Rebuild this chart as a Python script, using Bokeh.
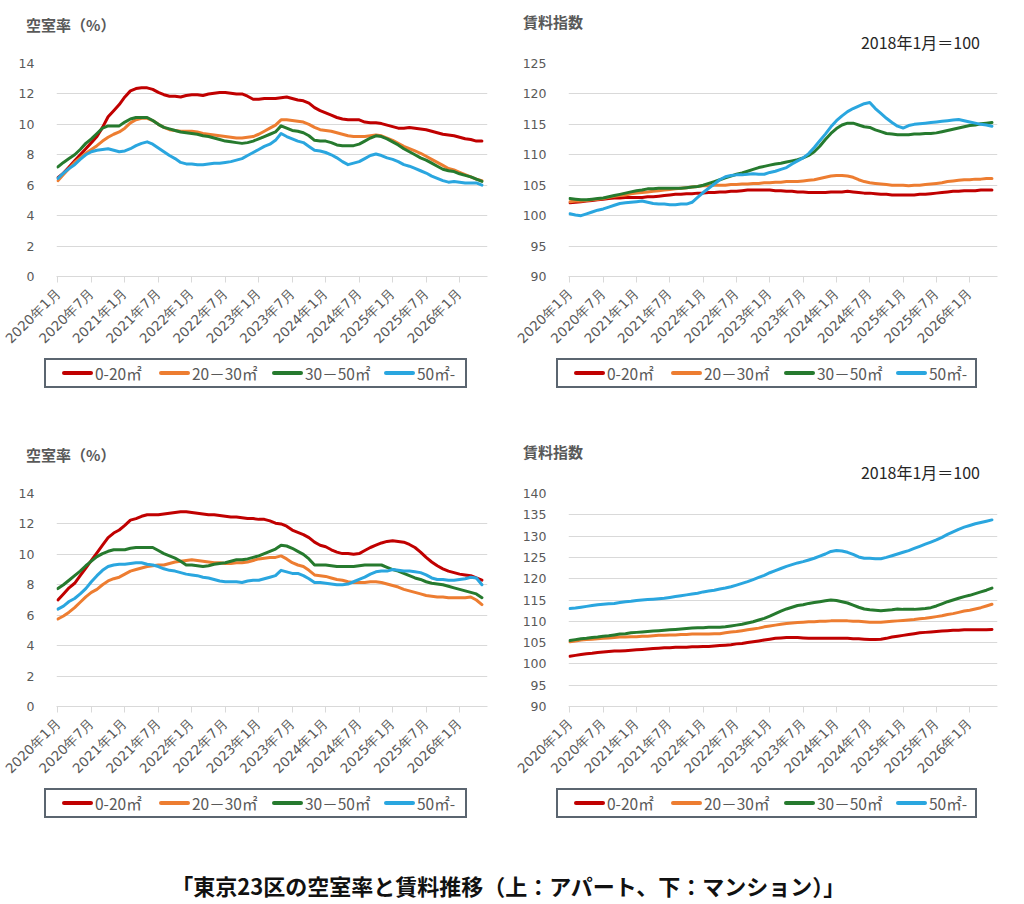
from bokeh.plotting import figure
from bokeh.models import Range1d, FixedTicker, Label, Div
from bokeh.layouts import column, row
from bokeh.embed import file_html
from bokeh.resources import INLINE

# ---------------- data ----------------
months = [f"{2020 + i // 12}年{i % 12 + 1}月" for i in range(77)]   # 2020年1月 .. 2026年5月
tick_positions = [0, 6, 12, 18, 24, 30, 36, 42, 48, 54, 60, 66, 72]
tick_labels = ["2020年1月", "2020年7月", "2021年1月", "2021年7月", "2022年1月", "2022年7月",
               "2023年1月", "2023年7月", "2024年1月", "2024年7月", "2025年1月", "2025年7月",
               "2026年1月"]
series_names = ["0-20㎡", "20－30㎡", "30－50㎡", "50㎡-"]
colors = ["#C00000", "#ED7D31", "#267A2E", "#2AA6DF"]

# アパート 空室率 (%)
apt_vac_0_20 = [6.5, 6.8, 7.2, 7.6, 8.0, 8.4, 8.8, 9.2, 9.8, 10.5, 10.9, 11.3, 11.8, 12.2, 12.35, 12.4,
                12.4, 12.3, 12.1, 11.95, 11.85, 11.85, 11.8, 11.9, 11.95, 11.95, 11.9, 12.0, 12.05, 12.1,
                12.1, 12.05, 12.0, 12.0, 11.85, 11.65, 11.65, 11.7, 11.7, 11.7, 11.75, 11.8, 11.7, 11.6,
                11.55, 11.4, 11.1, 10.9, 10.75, 10.6, 10.45, 10.35, 10.3, 10.3, 10.3, 10.15, 10.1, 10.1,
                10.05, 9.95, 9.85, 9.75, 9.75, 9.8, 9.75, 9.7, 9.65, 9.55, 9.45, 9.35, 9.3, 9.25, 9.15,
                9.05, 9.0, 8.9, 8.9]
apt_vac_20_30 = [6.3, 6.7, 7.1, 7.5, 7.8, 8.1, 8.35, 8.6, 8.9, 9.15, 9.35, 9.5, 9.75, 10.1, 10.3, 10.4,
                 10.4, 10.25, 10.0, 9.8, 9.65, 9.6, 9.55, 9.55, 9.55, 9.5, 9.4, 9.35, 9.3, 9.25, 9.2,
                 9.15, 9.1, 9.1, 9.15, 9.2, 9.35, 9.55, 9.75, 9.95, 10.3, 10.3, 10.25, 10.2, 10.15, 10.0,
                 9.8, 9.65, 9.6, 9.55, 9.45, 9.35, 9.25, 9.2, 9.2, 9.2, 9.25, 9.3, 9.25, 9.1, 8.95, 8.75,
                 8.55, 8.4, 8.25, 8.1, 7.9, 7.7, 7.5, 7.3, 7.1, 7.0, 6.85, 6.7, 6.55, 6.4, 6.3]
apt_vac_30_50 = [7.2, 7.5, 7.75, 8.0, 8.35, 8.75, 9.05, 9.4, 9.75, 9.9, 9.9, 9.9, 10.15, 10.35, 10.45,
                 10.45, 10.45, 10.25, 10.0, 9.8, 9.7, 9.6, 9.5, 9.45, 9.4, 9.35, 9.25, 9.2, 9.1, 9.0, 8.9,
                 8.85, 8.8, 8.75, 8.8, 8.9, 9.05, 9.2, 9.35, 9.5, 9.9, 9.75, 9.6, 9.55, 9.45, 9.25, 8.95,
                 8.9, 8.9, 8.8, 8.65, 8.6, 8.6, 8.6, 8.7, 8.9, 9.1, 9.25, 9.2, 9.05, 8.85, 8.65, 8.4, 8.2,
                 8.0, 7.8, 7.65, 7.45, 7.25, 7.05, 6.95, 6.9, 6.75, 6.65, 6.55, 6.4, 6.25]
apt_vac_50 = [6.45, 6.8, 7.1, 7.35, 7.7, 8.0, 8.2, 8.3, 8.35, 8.4, 8.3, 8.2, 8.25, 8.4, 8.6, 8.75, 8.85,
              8.7, 8.45, 8.2, 7.95, 7.75, 7.5, 7.4, 7.4, 7.35, 7.35, 7.4, 7.45, 7.45, 7.5, 7.55, 7.65,
              7.75, 7.95, 8.15, 8.35, 8.55, 8.7, 8.95, 9.4, 9.2, 9.05, 8.9, 8.8, 8.55, 8.3, 8.25, 8.15,
              8.0, 7.8, 7.55, 7.35, 7.45, 7.55, 7.75, 7.95, 8.05, 7.95, 7.8, 7.7, 7.55, 7.35, 7.25, 7.1,
              6.95, 6.8, 6.6, 6.45, 6.3, 6.2, 6.25, 6.2, 6.15, 6.15, 6.15, 6.0]

# アパート 賃料指数 (2018年1月=100)
apt_rent_0_20 = [102.1, 102.2, 102.3, 102.4, 102.5, 102.6, 102.7, 102.8, 102.9, 102.9, 103.0, 103.0,
                 103.0, 103.0, 103.1, 103.1, 103.2, 103.3, 103.4, 103.5, 103.5, 103.6, 103.6, 103.7,
                 103.7, 103.8, 103.8, 103.9, 103.9, 104.0, 104.0, 104.1, 104.2, 104.2, 104.2, 104.2,
                 104.2, 104.1, 104.1, 104.0, 104.0, 103.9, 103.9, 103.8, 103.8, 103.8, 103.8, 103.9,
                 103.9, 103.9, 104.0, 103.9, 103.8, 103.7, 103.7, 103.6, 103.5, 103.5, 103.4, 103.4,
                 103.4, 103.4, 103.4, 103.5, 103.5, 103.6, 103.7, 103.8, 103.9, 104.0, 104.0, 104.1,
                 104.1, 104.1, 104.2, 104.2, 104.2]
apt_rent_20_30 = [102.3, 102.4, 102.4, 102.5, 102.6, 102.7, 102.8, 103.0, 103.2, 103.3, 103.4, 103.6,
                  103.7, 103.8, 103.9, 104.0, 104.1, 104.2, 104.3, 104.4, 104.5, 104.6, 104.7, 104.8,
                  104.9, 104.9, 105.0, 105.0, 105.0, 105.1, 105.1, 105.2, 105.2, 105.3, 105.3, 105.4,
                  105.4, 105.5, 105.5, 105.6, 105.6, 105.6, 105.7, 105.8, 105.9, 106.1, 106.3, 106.5,
                  106.6, 106.6, 106.5, 106.3, 105.9, 105.6, 105.4, 105.3, 105.2, 105.1, 105.0, 105.0,
                  105.0, 104.9, 105.0, 105.0, 105.1, 105.2, 105.3, 105.4, 105.6, 105.7, 105.8, 105.9,
                  105.9, 106.0, 106.0, 106.1, 106.1]
apt_rent_30_50 = [102.8, 102.7, 102.6, 102.6, 102.7, 102.8, 102.9, 103.1, 103.3, 103.5, 103.7, 103.9,
                  104.1, 104.2, 104.4, 104.4, 104.5, 104.5, 104.5, 104.5, 104.5, 104.6, 104.7, 104.8,
                  105.0, 105.3, 105.6, 105.9, 106.2, 106.5, 106.8, 107.0, 107.3, 107.6, 107.9, 108.1,
                  108.3, 108.5, 108.6, 108.8, 109.0, 109.2, 109.5, 109.9, 110.5, 111.4, 112.5, 113.5,
                  114.3, 114.9, 115.2, 115.2, 114.9, 114.6, 114.5, 114.1, 113.8, 113.5, 113.4, 113.3,
                  113.3, 113.3, 113.4, 113.4, 113.5, 113.5, 113.6, 113.8, 114.0, 114.2, 114.4, 114.6,
                  114.8, 114.9, 115.1, 115.2, 115.3]
apt_rent_50 = [100.3, 100.1, 100.0, 100.3, 100.6, 100.9, 101.1, 101.4, 101.7, 102.0, 102.1, 102.2, 102.3,
               102.4, 102.2, 102.0, 101.9, 101.9, 101.8, 101.8, 101.9, 101.9, 102.2, 103.0, 103.8, 104.5,
               105.2, 105.9, 106.4, 106.6, 106.7, 106.7, 106.8, 106.9, 106.8, 106.8, 107.1, 107.3, 107.6,
               107.9, 108.5, 109.0, 109.5, 110.2, 111.2, 112.3, 113.4, 114.6, 115.6, 116.4, 117.1, 117.6,
               118.0, 118.4, 118.6, 117.6, 116.8, 116.0, 115.3, 114.7, 114.4, 114.8, 115.0, 115.1, 115.2,
               115.3, 115.4, 115.5, 115.6, 115.7, 115.8, 115.6, 115.4, 115.2, 115.0, 114.9, 114.7]

# マンション 空室率 (%)
man_vac_0_20 = [7.0, 7.4, 7.8, 8.1, 8.6, 9.1, 9.6, 10.1, 10.6, 11.1, 11.4, 11.6, 11.9, 12.25, 12.35, 12.5,
                12.6, 12.6, 12.6, 12.65, 12.7, 12.75, 12.8, 12.8, 12.75, 12.7, 12.65, 12.6, 12.6, 12.55,
                12.5, 12.45, 12.45, 12.4, 12.35, 12.35, 12.3, 12.3, 12.2, 12.05, 12.0, 11.85, 11.6, 11.45,
                11.3, 11.1, 10.8, 10.6, 10.5, 10.3, 10.15, 10.05, 10.05, 10.0, 10.05, 10.25, 10.45, 10.6,
                10.75, 10.85, 10.9, 10.85, 10.8, 10.65, 10.45, 10.15, 9.8, 9.5, 9.25, 9.05, 8.9, 8.8, 8.7,
                8.65, 8.6, 8.45, 8.3]
man_vac_20_30 = [5.75, 5.95, 6.2, 6.5, 6.85, 7.2, 7.5, 7.7, 8.0, 8.25, 8.4, 8.5, 8.7, 8.9, 9.0, 9.1, 9.2,
                 9.25, 9.3, 9.3, 9.4, 9.5, 9.55, 9.6, 9.65, 9.6, 9.55, 9.5, 9.45, 9.45, 9.4, 9.4, 9.45,
                 9.45, 9.5, 9.6, 9.7, 9.75, 9.8, 9.8, 9.9, 9.7, 9.45, 9.3, 9.2, 8.95, 8.65, 8.6, 8.55, 8.45,
                 8.35, 8.3, 8.2, 8.15, 8.15, 8.15, 8.2, 8.2, 8.15, 8.05, 7.95, 7.85, 7.7, 7.6, 7.5, 7.4,
                 7.3, 7.25, 7.2, 7.2, 7.15, 7.15, 7.15, 7.15, 7.2, 7.0, 6.7]
man_vac_30_50 = [7.75, 8.0, 8.3, 8.6, 8.9, 9.25, 9.55, 9.85, 10.05, 10.2, 10.3, 10.3, 10.3, 10.4, 10.45,
                 10.45, 10.45, 10.45, 10.25, 10.05, 9.9, 9.75, 9.55, 9.3, 9.3, 9.25, 9.2, 9.25, 9.35, 9.4,
                 9.45, 9.55, 9.65, 9.65, 9.7, 9.8, 9.9, 10.05, 10.2, 10.35, 10.6, 10.55, 10.4, 10.2, 10.0,
                 9.7, 9.3, 9.3, 9.3, 9.25, 9.2, 9.2, 9.2, 9.2, 9.25, 9.3, 9.3, 9.3, 9.3, 9.15, 9.0, 8.9,
                 8.75, 8.6, 8.45, 8.35, 8.2, 8.1, 8.05, 8.0, 7.9, 7.8, 7.7, 7.6, 7.5, 7.4, 7.15]
man_vac_50 = [6.4, 6.6, 6.9, 7.1, 7.4, 7.75, 8.2, 8.6, 8.95, 9.2, 9.3, 9.35, 9.35, 9.4, 9.45, 9.45, 9.35,
              9.3, 9.2, 9.05, 8.95, 8.9, 8.8, 8.7, 8.65, 8.6, 8.5, 8.45, 8.35, 8.25, 8.2, 8.2, 8.2, 8.15,
              8.25, 8.3, 8.3, 8.4, 8.5, 8.6, 8.95, 8.85, 8.75, 8.75, 8.6, 8.4, 8.15, 8.15, 8.1, 8.05, 8.0,
              8.0, 8.05, 8.2, 8.35, 8.5, 8.7, 8.85, 8.9, 8.9, 9.0, 8.95, 8.9, 8.9, 8.85, 8.8, 8.65, 8.45,
              8.35, 8.35, 8.3, 8.3, 8.35, 8.4, 8.5, 8.45, 8.0]

# マンション 賃料指数 (2018年1月=100)
man_rent_0_20 = [101.8, 102.0, 102.2, 102.4, 102.5, 102.7, 102.8, 102.9, 103.0, 103.0, 103.1, 103.2,
                 103.3, 103.4, 103.5, 103.6, 103.7, 103.8, 103.8, 103.9, 103.9, 103.9, 104.0, 104.0,
                 104.1, 104.1, 104.2, 104.3, 104.4, 104.5, 104.7, 104.8, 105.0, 105.2, 105.4, 105.6,
                 105.8, 106.0, 106.1, 106.2, 106.2, 106.2, 106.1, 106.0, 106.0, 106.0, 106.0, 106.0,
                 106.0, 106.0, 106.0, 105.9, 105.9, 105.8, 105.7, 105.7, 105.8, 106.0, 106.3, 106.5,
                 106.7, 106.9, 107.1, 107.3, 107.4, 107.5, 107.6, 107.7, 107.8, 107.9, 107.9, 108.0,
                 108.0, 108.0, 108.0, 108.0, 108.1]
man_rent_20_30 = [105.2, 105.4, 105.6, 105.7, 105.8, 105.9, 106.0, 106.1, 106.2, 106.3, 106.3, 106.4,
                  106.4, 106.5, 106.5, 106.6, 106.7, 106.7, 106.8, 106.8, 106.9, 106.9, 107.0, 107.0,
                  107.0, 107.0, 107.1, 107.1, 107.3, 107.5, 107.6, 107.8, 108.0, 108.2, 108.4, 108.7,
                  108.9, 109.1, 109.3, 109.5, 109.6, 109.7, 109.8, 109.9, 109.9, 110.0, 110.0, 110.1,
                  110.1, 110.1, 110.1, 110.0, 110.0, 109.9, 109.8, 109.8, 109.8, 109.9, 110.0, 110.1,
                  110.2, 110.3, 110.4, 110.6, 110.7, 110.9, 111.1, 111.3, 111.6, 111.8, 112.1, 112.4,
                  112.6, 112.9, 113.2, 113.6, 114.0]
man_rent_30_50 = [105.5, 105.7, 105.9, 106.0, 106.2, 106.3, 106.5, 106.6, 106.8, 107.0, 107.1, 107.3,
                  107.4, 107.5, 107.6, 107.7, 107.8, 107.9, 108.0, 108.1, 108.2, 108.3, 108.4, 108.5,
                  108.5, 108.6, 108.6, 108.6, 108.7, 108.9, 109.1, 109.3, 109.6, 109.9, 110.3, 110.7,
                  111.2, 111.8, 112.4, 112.9, 113.3, 113.7, 113.9, 114.2, 114.4, 114.6, 114.8, 115.0,
                  114.9, 114.6, 114.3, 113.8, 113.3, 112.9, 112.7, 112.6, 112.5, 112.6, 112.7, 112.9,
                  112.8, 112.8, 112.8, 112.9, 113.0, 113.2, 113.6, 114.1, 114.6, 115.0, 115.4, 115.8,
                  116.1, 116.5, 116.9, 117.3, 117.8]
man_rent_50 = [113.0, 113.1, 113.3, 113.5, 113.7, 113.9, 114.0, 114.1, 114.2, 114.4, 114.6, 114.7, 114.9,
               115.0, 115.1, 115.2, 115.3, 115.4, 115.6, 115.8, 116.0, 116.2, 116.4, 116.6, 116.9, 117.1,
               117.3, 117.6, 117.8, 118.1, 118.5, 118.9, 119.3, 119.8, 120.3, 120.8, 121.4, 121.9, 122.4,
               122.9, 123.3, 123.7, 124.0, 124.4, 124.8, 125.3, 125.8, 126.4, 126.6, 126.5, 126.2, 125.7,
               125.1, 124.8, 124.8, 124.7, 124.7, 125.0, 125.4, 125.8, 126.2, 126.6, 127.1, 127.6, 128.1,
               128.6, 129.1, 129.7, 130.4, 131.0, 131.6, 132.1, 132.5, 132.9, 133.2, 133.5, 133.8]

JP = "Noto Sans CJK JP"
NUM = "DejaVu Sans"
GRAY = "#595959"
GRID = "#D9D9D9"
W = 508


def header(height, title, title_x, title_top, note=None, note_top=0):
    html = (f'<div style="position:relative;width:{W}px;height:{height}px;'
            f'font-family:\'{JP}\';">'
            f'<span style="position:absolute;left:{title_x}px;top:{title_top}px;font-size:15px;'
            f'line-height:20px;font-weight:bold;color:{GRAY};white-space:nowrap;">{title}</span>')
    if note:
        html += (f'<span style="position:absolute;right:36px;top:{note_top}px;font-size:16px;'
                 f'line-height:20px;color:#262626;white-space:nowrap;">{note}</span>')
    html += '</div>'
    return Div(text=html, width=W, height=height, margin=(0, 0, 0, 0))


def legend_div(left, box_w):
    item_x = [16, 113, 226, 338]
    html = (f'<div style="position:relative;width:{W}px;height:82px;font-family:\'{JP}\';">'
            f'<div style="position:absolute;left:{left}px;top:2px;width:{box_w}px;height:30px;'
            f'box-sizing:border-box;border:2px solid #5B6570;background:white;">')
    for x, name, col in zip(item_x, series_names, colors):
        html += (f'<div style="position:absolute;left:{x}px;top:0;height:26px;display:flex;'
                 f'align-items:center;white-space:nowrap;">'
                 f'<span style="display:inline-block;width:31px;height:4px;background:{col};'
                 f'border-radius:2px;"></span>'
                 f'<span style="margin-left:2px;font-size:15.5px;line-height:20px;color:{GRAY};">{name}</span>'
                 f'</div>')
    html += '</div></div>'
    return Div(text=html, width=W, height=82, margin=(0, 0, 0, 0))


def main_chart(series, y0, y1, ystep, bl, br):
    idx = list(range(len(months)))
    p = figure(width=W, height=301, output_backend="svg", toolbar_location=None,
               x_range=Range1d(-0.25, 77.0), y_range=Range1d(y0, y1),
               min_border_left=bl, min_border_right=br, min_border_top=8, min_border_bottom=80)
    p.outline_line_color = None
    p.background_fill_color = "white"
    p.border_fill_color = "white"
    p.xgrid.visible = False
    p.ygrid.grid_line_color = GRID
    p.ygrid.grid_line_width = 1
    p.yaxis.ticker = FixedTicker(ticks=list(range(y0, y1 + 1, ystep)))
    p.yaxis.axis_line_color = None
    p.yaxis.major_tick_line_color = None
    p.yaxis.minor_tick_line_color = None
    p.yaxis.major_label_standoff = 16
    p.xaxis.ticker = FixedTicker(ticks=tick_positions)
    p.xaxis.major_label_overrides = {t: l for t, l in zip(tick_positions, tick_labels)}
    p.xaxis.major_label_orientation = 0.785398
    p.xaxis.axis_line_color = GRID
    p.xaxis.major_tick_line_color = GRID
    p.xaxis.major_tick_out = 6
    p.xaxis.major_tick_in = 0
    p.xaxis.minor_tick_line_color = None
    p.xaxis.major_label_standoff = 8
    for ax in (p.xaxis, p.yaxis):
        ax.major_label_text_font = NUM
        ax.major_label_text_color = GRAY
    p.yaxis.major_label_text_font_size = "12.5px"
    p.xaxis.major_label_text_font_size = "13.5px"
    for vals, col in zip(series, colors):
        assert len(vals) == len(months)
        p.line(idx, vals, line_color=col, line_width=3, line_join="round", line_cap="round")
    return p


def cell(hdr_h, title, title_x, title_top, series, y0, y1, ystep, bl, br, leg_left, box_w,
         note=None, note_top=0):
    return column(header(hdr_h, title, title_x, title_top, note, note_top),
                  main_chart(series, y0, y1, ystep, bl, br),
                  legend_div(leg_left, box_w), spacing=0)


c1 = cell(55, "空室率（%）", 26, 15, [apt_vac_0_20, apt_vac_20_30, apt_vac_30_50, apt_vac_50],
          0, 14, 2, 56, 21, 44, 423)
c2 = cell(55, "賃料指数", 15, 12, [apt_rent_0_20, apt_rent_20_30, apt_rent_30_50, apt_rent_50],
          90, 125, 5, 60, 19, 48, 421, note="2018年1月＝100", note_top=32)
c3 = cell(47, "空室率（%）", 26, 7, [man_vac_0_20, man_vac_20_30, man_vac_30_50, man_vac_50],
          0, 14, 2, 56, 21, 44, 423)
c4 = cell(47, "賃料指数", 15, 4, [man_rent_0_20, man_rent_20_30, man_rent_30_50, man_rent_50],
          90, 140, 5, 60, 19, 48, 421, note="2018年1月＝100", note_top=24)

cap = figure(width=1016, height=32, output_backend="svg", toolbar_location=None,
             x_range=Range1d(0, 1), y_range=Range1d(0, 1),
             min_border_left=0, min_border_right=0, min_border_top=0, min_border_bottom=0)
cap.axis.visible = False
cap.grid.visible = False
cap.outline_line_color = None
cap.add_layout(Label(x=0.5, y=0.5, text="「東京23区の空室率と賃料推移（上：アパート、下：マンション）」",
                     text_font=JP, text_font_size="22px", text_font_style="bold",
                     text_color="#111111", text_align="center", text_baseline="middle"))

layout = column(row(c1, c2, spacing=0), row(c3, c4, spacing=0), cap, spacing=0)
open("out.html", "w").write(file_html(layout, INLINE))
